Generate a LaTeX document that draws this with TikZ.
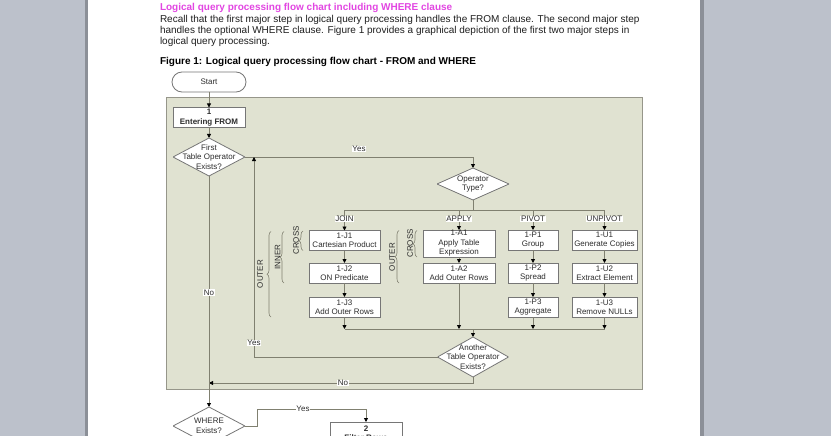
\documentclass[tikz,border=0pt]{standalone}
\usepackage{fontspec}
\setmainfont{Liberation Sans}
\usetikzlibrary{arrows.meta,decorations.pathreplacing,calc}
\definecolor{pagegray}{RGB}{188,193,203}
\definecolor{shadowgray}{RGB}{140,144,152}
\definecolor{panel}{RGB}{224,226,209}
\definecolor{panelborder}{RGB}{150,150,138}
\definecolor{flowline}{RGB}{128,128,112}
\definecolor{boxborder}{RGB}{118,118,118}
\definecolor{titlemag}{RGB}{226,70,226}
\definecolor{txt}{RGB}{45,45,45}
\begin{document}
\begin{tikzpicture}[x=1pt,y=-1pt,
  every node/.style={inner sep=0pt, outer sep=0pt, font=\fontsize{8}{9.5}\selectfont, text=txt},
  stepbox/.style={draw=boxborder, fill=white, line width=0.7pt, align=center, minimum height=20pt},
  dia/.style={rectangle, minimum width=72pt, minimum height=38pt, align=center,
    path picture={\draw[draw=boxborder, fill=white, line width=0.8pt]
      (path picture bounding box.north) -- (path picture bounding box.east) --
      (path picture bounding box.south) -- (path picture bounding box.west) -- cycle;}},
  flow/.style={draw=flowline, line width=0.8pt},
  arr/.style={flow, -{Triangle[length=4pt,width=4pt,color=black]}},
  lab/.style={fill=white, inner sep=0.6pt},
  brc/.style={draw=flowline, line width=0.6pt, decorate, decoration={brace, amplitude=4pt}},
  vlab/.style={rotate=90},
  para/.style={anchor=west, font=\fontsize{10}{11}\selectfont, text=black!88}
]
\clip (0,0) rectangle (831,436);
\useasboundingbox (0,0) rectangle (831,436);
% page
\fill[pagegray] (0,0) rectangle (831,436);
\fill[white] (88,0) rectangle (700,436);
\fill[shadowgray] (85,0) rectangle (88,436);
\fill[shadowgray] (700,0) rectangle (703.5,436);

% header text
\node[para, font=\fontsize{10}{11}\selectfont\bfseries, text=titlemag] (title) at (160,7.5)
  {Logical query processing flow chart including WHERE clause};
\node[para] (p1) at (160,19.5) {Recall that the first major step in logical query processing handles the FROM clause. The second major step};
\node[para] (p2) at (160,30.5) {handles the optional WHERE clause. Figure 1 provides a graphical depiction of the first two major steps in};
\node[para] (p3) at (160,41.5) {logical query processing.};
\node[para, font=\fontsize{10}{11}\selectfont\bfseries, text=black] (cap) at (160,62)
  {Figure 1: Logical query processing flow chart - FROM and WHERE};

% panel
\node[fill=panel, draw=panelborder, line width=1pt, minimum width=476pt, minimum height=291pt, anchor=north west] (panel) at (166,98) {};

% nodes
\node[draw=boxborder, fill=white, line width=0.8pt, rounded corners=10pt, minimum width=74pt, minimum height=20pt] (start) at (209,82) {Start};
\node[stepbox, minimum width=72pt, font=\fontsize{8}{10}\selectfont\bfseries] (enter) at (209,117.5) {1\\Entering FROM};
\node[dia] (first) at (209,157) {First\\Table Operator\\Exists?};
\node[dia, minimum height=32pt] (optype) at (473,184) {Operator\\Type?};

\node[stepbox, minimum width=71pt] (j1) at (344.5,240.5) {1-J1\\Cartesian Product};
\node[stepbox, minimum width=71pt] (j2) at (344.5,273) {1-J2\\ON Predicate};
\node[stepbox, minimum width=71pt] (j3) at (344.5,307) {1-J3\\Add Outer Rows};

\node[stepbox, minimum width=72pt, minimum height=27pt] (a1) at (459,243.5) {1-A1\\Apply Table\\Expression};
\node[stepbox, minimum width=72pt] (a2) at (459,273) {1-A2\\Add Outer Rows};

\node[stepbox, minimum width=50pt] (p1b) at (533,240) {1-P1\\Group};
\node[stepbox, minimum width=50pt] (p2b) at (533,273) {1-P2\\Spread};
\node[stepbox, minimum width=50pt] (p3b) at (533,307) {1-P3\\Aggregate};

\node[stepbox, minimum width=65pt] (u1) at (604.5,240) {1-U1\\Generate Copies};
\node[stepbox, minimum width=65pt] (u2) at (604.5,273) {1-U2\\Extract Element};
\node[stepbox, minimum width=65pt] (u3) at (604.5,307) {1-U3\\Remove NULLs};

\node[dia, minimum width=71pt, minimum height=40pt] (another) at (473,357) {Another\\Table Operator\\Exists?};
\node[dia] (where) at (209,426) {WHERE\\Exists?};
\node[stepbox, minimum width=72pt, minimum height=22pt, anchor=north, font=\fontsize{8}{9.5}\selectfont\bfseries, text depth=0pt] (filter) at (366,422) {2\\Filter Rows};

% helper coordinates
\coordinate (bl) at (473,210);
\coordinate (ly) at (0,219);
\coordinate (ml) at (473,329);
\coordinate (lx) at (254,0);
\coordinate (ny) at (0,383);
\coordinate (wx) at (257,409);

% connectors
\draw[arr] (start) -- (enter);
\draw[arr] (enter) -- (first);
\draw[arr] (first.east) -- (first.east -| optype.north) -- (optype.north);
\draw[flow] (optype.south) -- (bl);
\draw[flow] (j1.north |- bl) -- (u1.north |- bl);
\draw[arr] (j1.north |- bl) -- (j1.north);
\draw[arr] (a1.north |- bl) -- (a1.north);
\draw[arr] (p1b.north |- bl) -- (p1b.north);
\draw[arr] (u1.north |- bl) -- (u1.north);

\draw[arr] (j1) -- (j2);
\draw[arr] (j2) -- (j3);
\draw[arr] (a1) -- (a2);
\draw[arr] (p1b) -- (p2b);
\draw[arr] (p2b) -- (p3b);
\draw[arr] (u1) -- (u2);
\draw[arr] (u2) -- (u3);

\draw[arr] (j3.south) -- (j3.south |- ml);
\draw[arr] (a2.south) -- (a2.south |- ml);
\draw[arr] (p3b.south) -- (p3b.south |- ml);
\draw[arr] (u3.south) -- (u3.south |- ml);
\draw[flow] (j3.south |- ml) -- (u3.south |- ml);
\draw[arr] (ml) -- (another.north);

\draw[arr] (another.west) -- (another.west -| lx) -- (lx |- first.east);
\draw[arr] (another.south) -- (another.south |- ny) -- (first.south |- ny);
\draw[arr] (first.south) -- (where.north);
\draw[arr] (where.east) -- (where.east -| wx) -- (wx) -- (wx -| filter.north) -- (filter.north);

% braces
\draw[brc] (303,250.5) -- (303,231);
\draw[brc] (284,283) -- (284,231.5);
\draw[brc] (271,317) -- (271,231.5);
\draw[brc] (417,257) -- (417,230.5);
\draw[brc] (399,283) -- (399,230.5);
\node[vlab] (cr1) at (296,240.5) {CROSS};
\node[vlab] (in1) at (277.5,257) {INNER};
\node[vlab] (ou1) at (260,274) {OUTER};
\node[vlab] (cr2) at (410,243.5) {CROSS};
\node[vlab] (ou2) at (392,257) {OUTER};

% labels
\node[lab] (yes1) at (359,149) {Yes};
\node[lab] (yes2) at (254,343) {Yes};
\node[lab] (no1) at (343,383) {No};
\node[lab] (no2) at (209,292.5) {No};
\node[lab] (yes3) at (303,409) {Yes};
\node[lab] (ljoin) at (j1.north |- ly) {JOIN};
\node[lab] (lapply) at (a1.north |- ly) {APPLY};
\node[lab] (lpivot) at (p1b.north |- ly) {PIVOT};
\node[lab] (lunpivot) at (u1.north |- ly) {UNPIVOT};
\end{tikzpicture}
\end{document}
